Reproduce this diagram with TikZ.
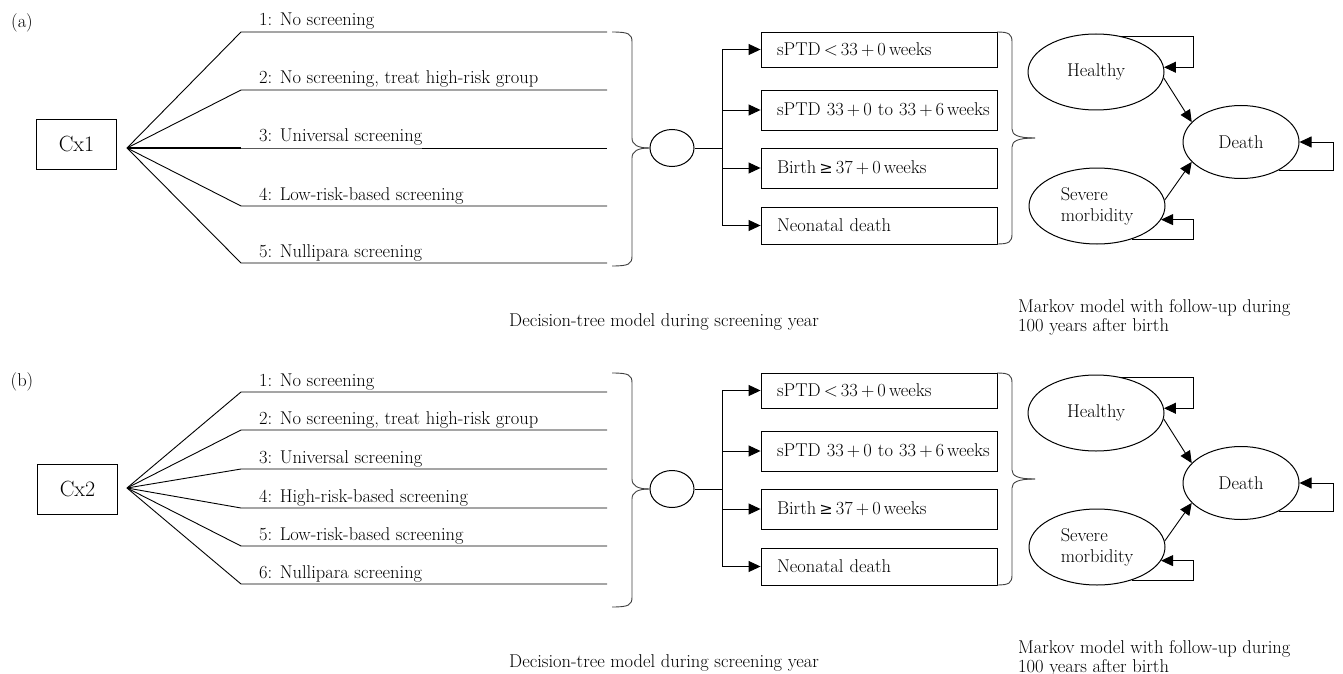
\documentclass[tikz,border=0pt]{standalone}
\usepackage{fontspec}
\newfontfamily\symf{DejaVu Serif}
\usetikzlibrary{arrows.meta,shapes.geometric}
\tikzset{
  ln/.style={line width=0.9pt},
  thk/.style={line width=1.7pt},
  arr/.style={line width=0.9pt,-{Triangle[length=12pt,width=11pt]}},
  brc/.style={line width=0.9pt,draw=black!75},
  obox/.style={draw,line width=0.9pt,rectangle,text width=204pt,inner xsep=16pt,inner ysep=0pt,align=left},
  chance/.style={draw,ellipse,inner sep=0pt,line width=1pt,minimum width=44,minimum height=37},
  st/.style={draw,ellipse,inner sep=0pt,line width=1pt},
  cx/.style={draw,rectangle,line width=0.9pt,inner sep=0pt,minimum width=80,minimum height=50,font=\fontsize{22}{26}\selectfont},
  blbl/.style={anchor=base west,inner sep=0pt}
}
\begin{document}
\begin{tikzpicture}[x=1pt,y=-1pt,font=\fontsize{18.5}{19}\selectfont]
\useasboundingbox (0,0) rectangle (1343,674);

% ---------- panel (a), left part ----------
\node[inner sep=0pt] (pa) at (22,23) {(a)};
\node[cx] (cx1) at (76.5,144) {Cx1};
\coordinate (fa) at (127,148);
\foreach \y/\t [count=\i] in {32/{1: No screening},90/{2: No screening, treat high-risk group},148/{3: Universal screening},206/{4: Low-risk-based screening},263/{5: Nullipara screening}}{
  \coordinate (ak\i) at (241,\y);
  \coordinate (ae\i) at (607,\y);
  \draw[ln] (fa) -- (ak\i) -- (ae\i);
  \node[blbl] (al\i) at (259,\y-6) {\t};
}
\draw[thk] (fa) -- (ak3);

% ---------- panel (b), left part ----------
\node[inner sep=0pt] (pb) at (22,382) {(b)};
\node[cx] (cx2) at (77.5,489) {Cx2};
\coordinate (fb) at (127,488);
\foreach \y/\t [count=\i] in {392/{1: No screening},430/{2: No screening, treat high-risk group},469/{3: Universal screening},508/{4: High-risk-based screening},546/{5: Low-risk-based screening},584/{6: Nullipara screening}}{
  \coordinate (bk\i) at (241,\y);
  \coordinate (be\i) at (607,\y);
  \draw[ln] (fb) -- (bk\i) -- (be\i);
  \node[blbl] (bl\i) at (259,\y-6) {\t};
}

% ---------- right parts (same for both panels) ----------
\foreach \p/\s in {a/0,b/-341}{
\begin{scope}[yshift=\s pt]
  \node[chance] (\p c) at (672,148) {};
  % left brace
  \draw[brc] (612,32) .. controls (629,32) and (632,34) .. (632,42) -- (632,138) .. controls (632,145) and (638,148) .. (\p c.west);
  \draw[brc] (612,266) .. controls (629,266) and (632,264) .. (632,256) -- (632,158) .. controls (632,151) and (638,148) .. (\p c.west);
  % outcome boxes
  \node[obox,minimum height=35] (\p o1) at (879,49.5) {sPTD\,<\,33\,+\,0\,weeks};
  \node[obox,minimum height=40] (\p o2) at (879,110) {\mbox{sPTD 33\,+\,0 to 33\,+\,6\,weeks}};
  \node[obox,minimum height=40] (\p o3) at (879,168) {Birth\,{\symf\fontsize{16}{19}\selectfont ≥}\,37\,+\,0\,weeks};
  \node[obox,minimum height=37] (\p o4) at (879,225.5) {Neonatal death};
  \coordinate (\p v) at (722,148);
  \draw[ln] (\p c.east) -- (\p v);
  \draw[ln] (\p o1.west -| \p v) -- (\p o4.west -| \p v);
  \foreach \k in {1,2,3,4}{
    \draw[arr] (\p o\k.west -| \p v) -- (\p o\k.west);
  }
  % right brace
  \coordinate (\p t) at (1035,138);
  \draw[brc] (997,32) .. controls (1009,32) and (1012,34) .. (1012,42) -- (1012,129) .. controls (1012,135) and (1018,138) .. (\p t);
  \draw[brc] (997,244) .. controls (1009,244) and (1012,242) .. (1012,234) -- (1012,147) .. controls (1012,141) and (1018,138) .. (\p t);
  % Markov model
  \node[st,minimum width=136,minimum height=76] (\p H) at (1096,72) {Healthy};
  \node[st,minimum width=116,minimum height=73] (\p D) at (1241,142) {Death};
  \node[st,minimum width=136,minimum height=76,align=left,font=\fontsize{18.5}{21}\selectfont] (\p S) at (1097,206) {Severe\\morbidity};
  \draw[arr] (\p H.-5) -- (\p D.158);
  \draw[arr] (\p S.5) -- (\p D.202);
  \draw[arr] (\p H.56) -- ++(73,0) |- (\p H.4);
  \draw[arr] (\p D.-37) -- ++(55,0) |- (\p D.east);
  \draw[arr] (\p S.-43) -- ++(61,0) |- (\p S.-12);
  % captions
  \node[anchor=base,inner sep=0pt] (\p dt) at (664,326) {Decision-tree model during screening year};
  \node[anchor=north west,inner sep=0pt,align=left] (\p mk) at (1018,299) {Markov model with follow-up during\\100 years after birth};
\end{scope}
}
\end{tikzpicture}
\end{document}
